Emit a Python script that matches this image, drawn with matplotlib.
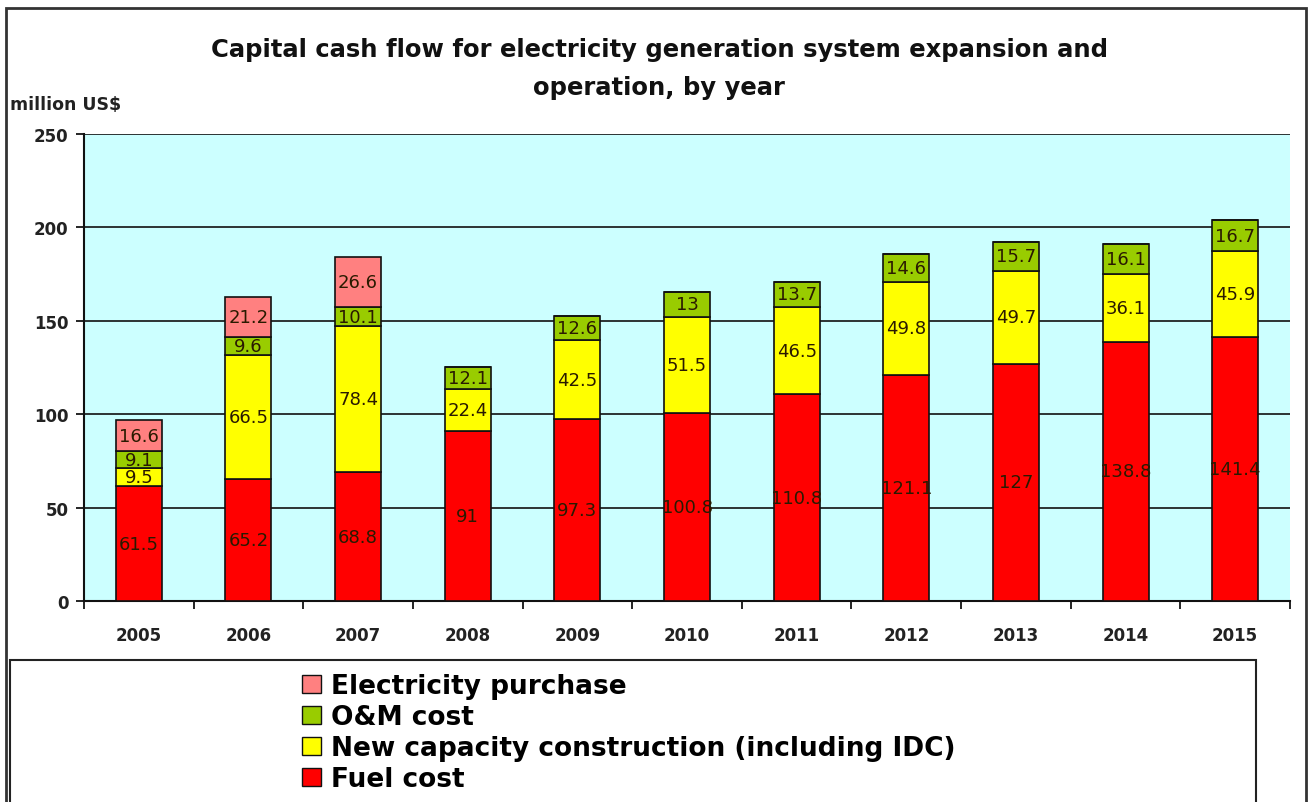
import matplotlib
matplotlib.use("Agg")
import matplotlib.pyplot as plt
from matplotlib.patches import Rectangle
import numpy as np

plt.rcParams['font.family'] = ['DejaVu Sans']

years = ['2005', '2006', '2007', '2008', '2009', '2010', '2011', '2012', '2013', '2014', '2015']
fuel_cost = [61.5, 65.2, 68.8, 91, 97.3, 100.8, 110.8, 121.1, 127, 138.8, 141.4]
new_capacity = [9.5, 66.5, 78.4, 22.4, 42.5, 51.5, 46.5, 49.8, 49.7, 36.1, 45.9]
om_cost = [9.1, 9.6, 10.1, 12.1, 12.6, 13, 13.7, 14.6, 15.7, 16.1, 16.7]
elec_purchase = [16.6, 21.2, 26.6, None, None, None, None, None, None, None, None]

series_names = ['Fuel cost', 'New capacity construction (including IDC)', 'O&M cost', 'Electricity purchase']
series_values = [fuel_cost, new_capacity, om_cost, elec_purchase]
colors = ['#FF0000', '#FFFF00', '#99CC00', '#FF8080']
yticks = [0, 50, 100, 150, 200, 250]

fig = plt.figure(figsize=(13.11, 8.03), dpi=100)
fig.patch.set_facecolor('white')

# outer chart border
fig.add_artist(Rectangle((6/1311, -0.01), 1300/1311, 1 - 9/803 + 0.01, transform=fig.transFigure,
                         fill=False, edgecolor='#333333', linewidth=2.0))
# legend box
fig.add_artist(Rectangle((10/1311, -0.01), 1246/1311, 1 - 661/803 + 0.01, transform=fig.transFigure,
                         fill=False, edgecolor='#222222', linewidth=1.5))

ax = fig.add_axes([84/1311, 1 - 602/803, (1290 - 84)/1311, (602 - 135)/803])
ax.set_facecolor('#CCFFFF')

x = np.arange(len(years))
bottom = np.zeros(len(years))
handles = []
for name, vals, col in zip(series_names, series_values, colors):
    v = np.array([0 if a is None else a for a in vals], dtype=float)
    bars = ax.bar(x, v, width=0.42, bottom=bottom, color=col, edgecolor='#111111', linewidth=1.2,
                  zorder=3, label=name)
    for xi, (val, b) in enumerate(zip(vals, bottom)):
        if val is not None:
            ax.text(xi, b + val / 2, f"{val:g}", ha='center', va='center', fontsize=13,
                    color='#2a1a00', zorder=4)
    bottom += v
    handles.append(bars)

ax.set_xlim(-0.5, len(years) - 0.5)
ax.set_ylim(0, 250)
ax.set_yticks(yticks)
ax.set_yticklabels([str(t) for t in yticks], fontsize=12, fontweight='bold', color='#222222')
ax.yaxis.grid(True, color='#111111', linewidth=1.2, zorder=1)
ax.set_axisbelow(True)

ax.set_xticks(x)
ax.set_xticklabels(years, fontsize=12, fontweight='bold', color='#222222')
ax.set_xticks(np.arange(-0.5, len(years), 1), minor=True)
ax.tick_params(axis='x', which='major', length=0, pad=18)
ax.tick_params(axis='x', which='minor', length=6, width=1.2, direction='out')
ax.tick_params(axis='y', length=6, width=1.2, direction='out', pad=5)

for s in ['top', 'right']:
    ax.spines[s].set_visible(False)
for s in ['left', 'bottom']:
    ax.spines[s].set_linewidth(1.5)
    ax.spines[s].set_color('#111111')

fig.text(0.503, 1 - 50/803, 'Capital cash flow for electricity generation system expansion and',
         ha='center', va='center', fontsize=17.5, fontweight='bold', color='#111111')
fig.text(0.503, 1 - 88/803, 'operation, by year',
         ha='center', va='center', fontsize=17.5, fontweight='bold', color='#111111')
fig.text(10/1311, 1 - 105/803, 'million US$', ha='left', va='center', fontsize=12.5,
         fontweight='bold', color='#222222')

leg = fig.legend(handles[::-1], series_names[::-1], loc='upper left',
                 bbox_to_anchor=(289/1311, 1 - 661/803), frameon=False,
                 prop={'size': 19, 'weight': 'bold'}, handlelength=0.7, handleheight=0.7,
                 handletextpad=0.4, labelspacing=0.19, borderpad=0)
for h in leg.legend_handles:
    h.set_edgecolor('#111111')
    h.set_linewidth(1.0)

fig.savefig('out.png', dpi=100)
